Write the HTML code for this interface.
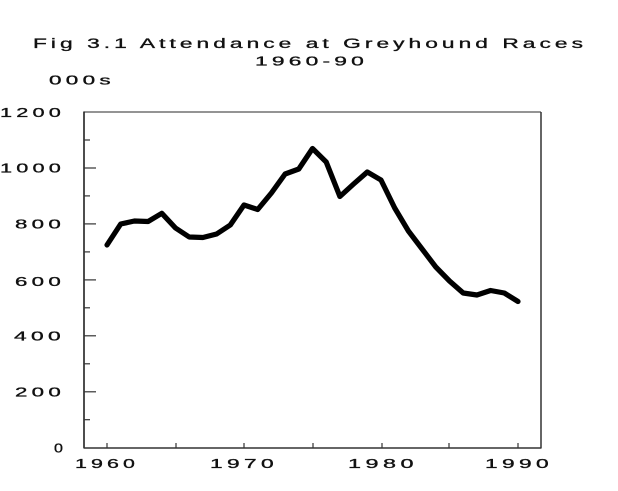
<!DOCTYPE html>
<html>
<head>
<meta charset="utf-8">
<style>
  html, body { margin:0; padding:0; background:#fff; }
  svg { display:block; }
  text { font-family: "Liberation Sans", "DejaVu Sans", sans-serif; fill:#111; stroke:#111; stroke-width:0.3; }
</style>
</head>
<body>
<svg width="618" height="491" viewBox="0 0 618 491" xmlns="http://www.w3.org/2000/svg">
  <rect width="618" height="491" fill="#fff"/>
  <!-- Title -->
  <text x="33" y="48" font-size="13.5" letter-spacing="2.4" textLength="554" lengthAdjust="spacingAndGlyphs">Fig 3.1 Attendance at Greyhound Races</text>
  <text x="255" y="65.5" font-size="13" letter-spacing="2.4" textLength="113" lengthAdjust="spacingAndGlyphs">1960-90</text>
  <text x="49" y="84.5" font-size="12.5" letter-spacing="2.4" textLength="66" lengthAdjust="spacingAndGlyphs">000s</text>

  <!-- Plot frame -->
  <line x1="84" y1="112" x2="541" y2="112" stroke="#555" stroke-width="1.2"/>
  <line x1="541" y1="112" x2="541" y2="448" stroke="#333" stroke-width="1.5"/>
  <line x1="84" y1="111.5" x2="84" y2="448" stroke="#222" stroke-width="1.6"/>
  <line x1="83.5" y1="448" x2="541.5" y2="448" stroke="#333" stroke-width="1.5"/>

  <!-- Y ticks -->
  <g stroke="#333" stroke-width="1.2">
    <line x1="84" y1="391.8" x2="96" y2="391.8"/>
    <line x1="84" y1="335.8" x2="96" y2="335.8"/>
    <line x1="84" y1="279.9" x2="96" y2="279.9"/>
    <line x1="84" y1="223.9" x2="96" y2="223.9"/>
    <line x1="84" y1="168" x2="96" y2="168"/>
    <line x1="84" y1="419.7" x2="90" y2="419.7"/>
    <line x1="84" y1="363.8" x2="90" y2="363.8"/>
    <line x1="84" y1="307.8" x2="90" y2="307.8"/>
    <line x1="84" y1="251.9" x2="90" y2="251.9"/>
    <line x1="84" y1="195.9" x2="90" y2="195.9"/>
    <line x1="84" y1="140" x2="90" y2="140"/>
  </g>
  <!-- X ticks -->
  <g stroke="#333" stroke-width="1.2">
    <line x1="107" y1="448" x2="107" y2="443"/>
    <line x1="176" y1="448" x2="176" y2="443"/>
    <line x1="244" y1="448" x2="244" y2="443"/>
    <line x1="313" y1="448" x2="313" y2="443"/>
    <line x1="382" y1="448" x2="382" y2="443"/>
    <line x1="449" y1="448" x2="449" y2="443"/>
    <line x1="518" y1="448" x2="518" y2="443"/>
  </g>

  <!-- Y labels -->
  <g font-size="12.5" letter-spacing="2.4">
    <text x="0" y="117" textLength="65" lengthAdjust="spacingAndGlyphs">1200</text>
    <text x="0" y="172.5" textLength="65" lengthAdjust="spacingAndGlyphs">1000</text>
    <text x="15" y="228.5" textLength="50" lengthAdjust="spacingAndGlyphs">800</text>
    <text x="15" y="286" textLength="50" lengthAdjust="spacingAndGlyphs">600</text>
    <text x="14" y="340.5" textLength="51" lengthAdjust="spacingAndGlyphs">400</text>
    <text x="15" y="396.5" textLength="50" lengthAdjust="spacingAndGlyphs">200</text>
    <text x="54" y="452.5" textLength="12" lengthAdjust="spacingAndGlyphs">0</text>
  </g>
  <!-- X labels -->
  <g font-size="12.5" letter-spacing="2.4">
    <text x="75" y="468" textLength="64" lengthAdjust="spacingAndGlyphs">1960</text>
    <text x="210" y="468" textLength="68" lengthAdjust="spacingAndGlyphs">1970</text>
    <text x="348" y="468" textLength="70" lengthAdjust="spacingAndGlyphs">1980</text>
    <text x="485" y="468" textLength="68" lengthAdjust="spacingAndGlyphs">1990</text>
  </g>

  <!-- Data line -->
  <polyline fill="none" stroke="#000" stroke-width="5.2" stroke-linejoin="round" stroke-linecap="round"
    points="107,245 120.7,224 134.4,221 148.1,221.5 161.8,213.3 175.5,228 189.2,237 202.9,237.5 216.6,234 230.3,225 244,205 257.7,209.5 271.4,193 285.1,174 298.8,169 312.5,148.5 326.2,162 339.9,196.5 353.6,184 367.3,172 381,180 394.7,208 408.4,231 422.1,249 435.8,267 449.5,281 463.2,293 476.9,295 490.6,290.5 504.3,293 518,301.5"/>
</svg>
</body>
</html>
